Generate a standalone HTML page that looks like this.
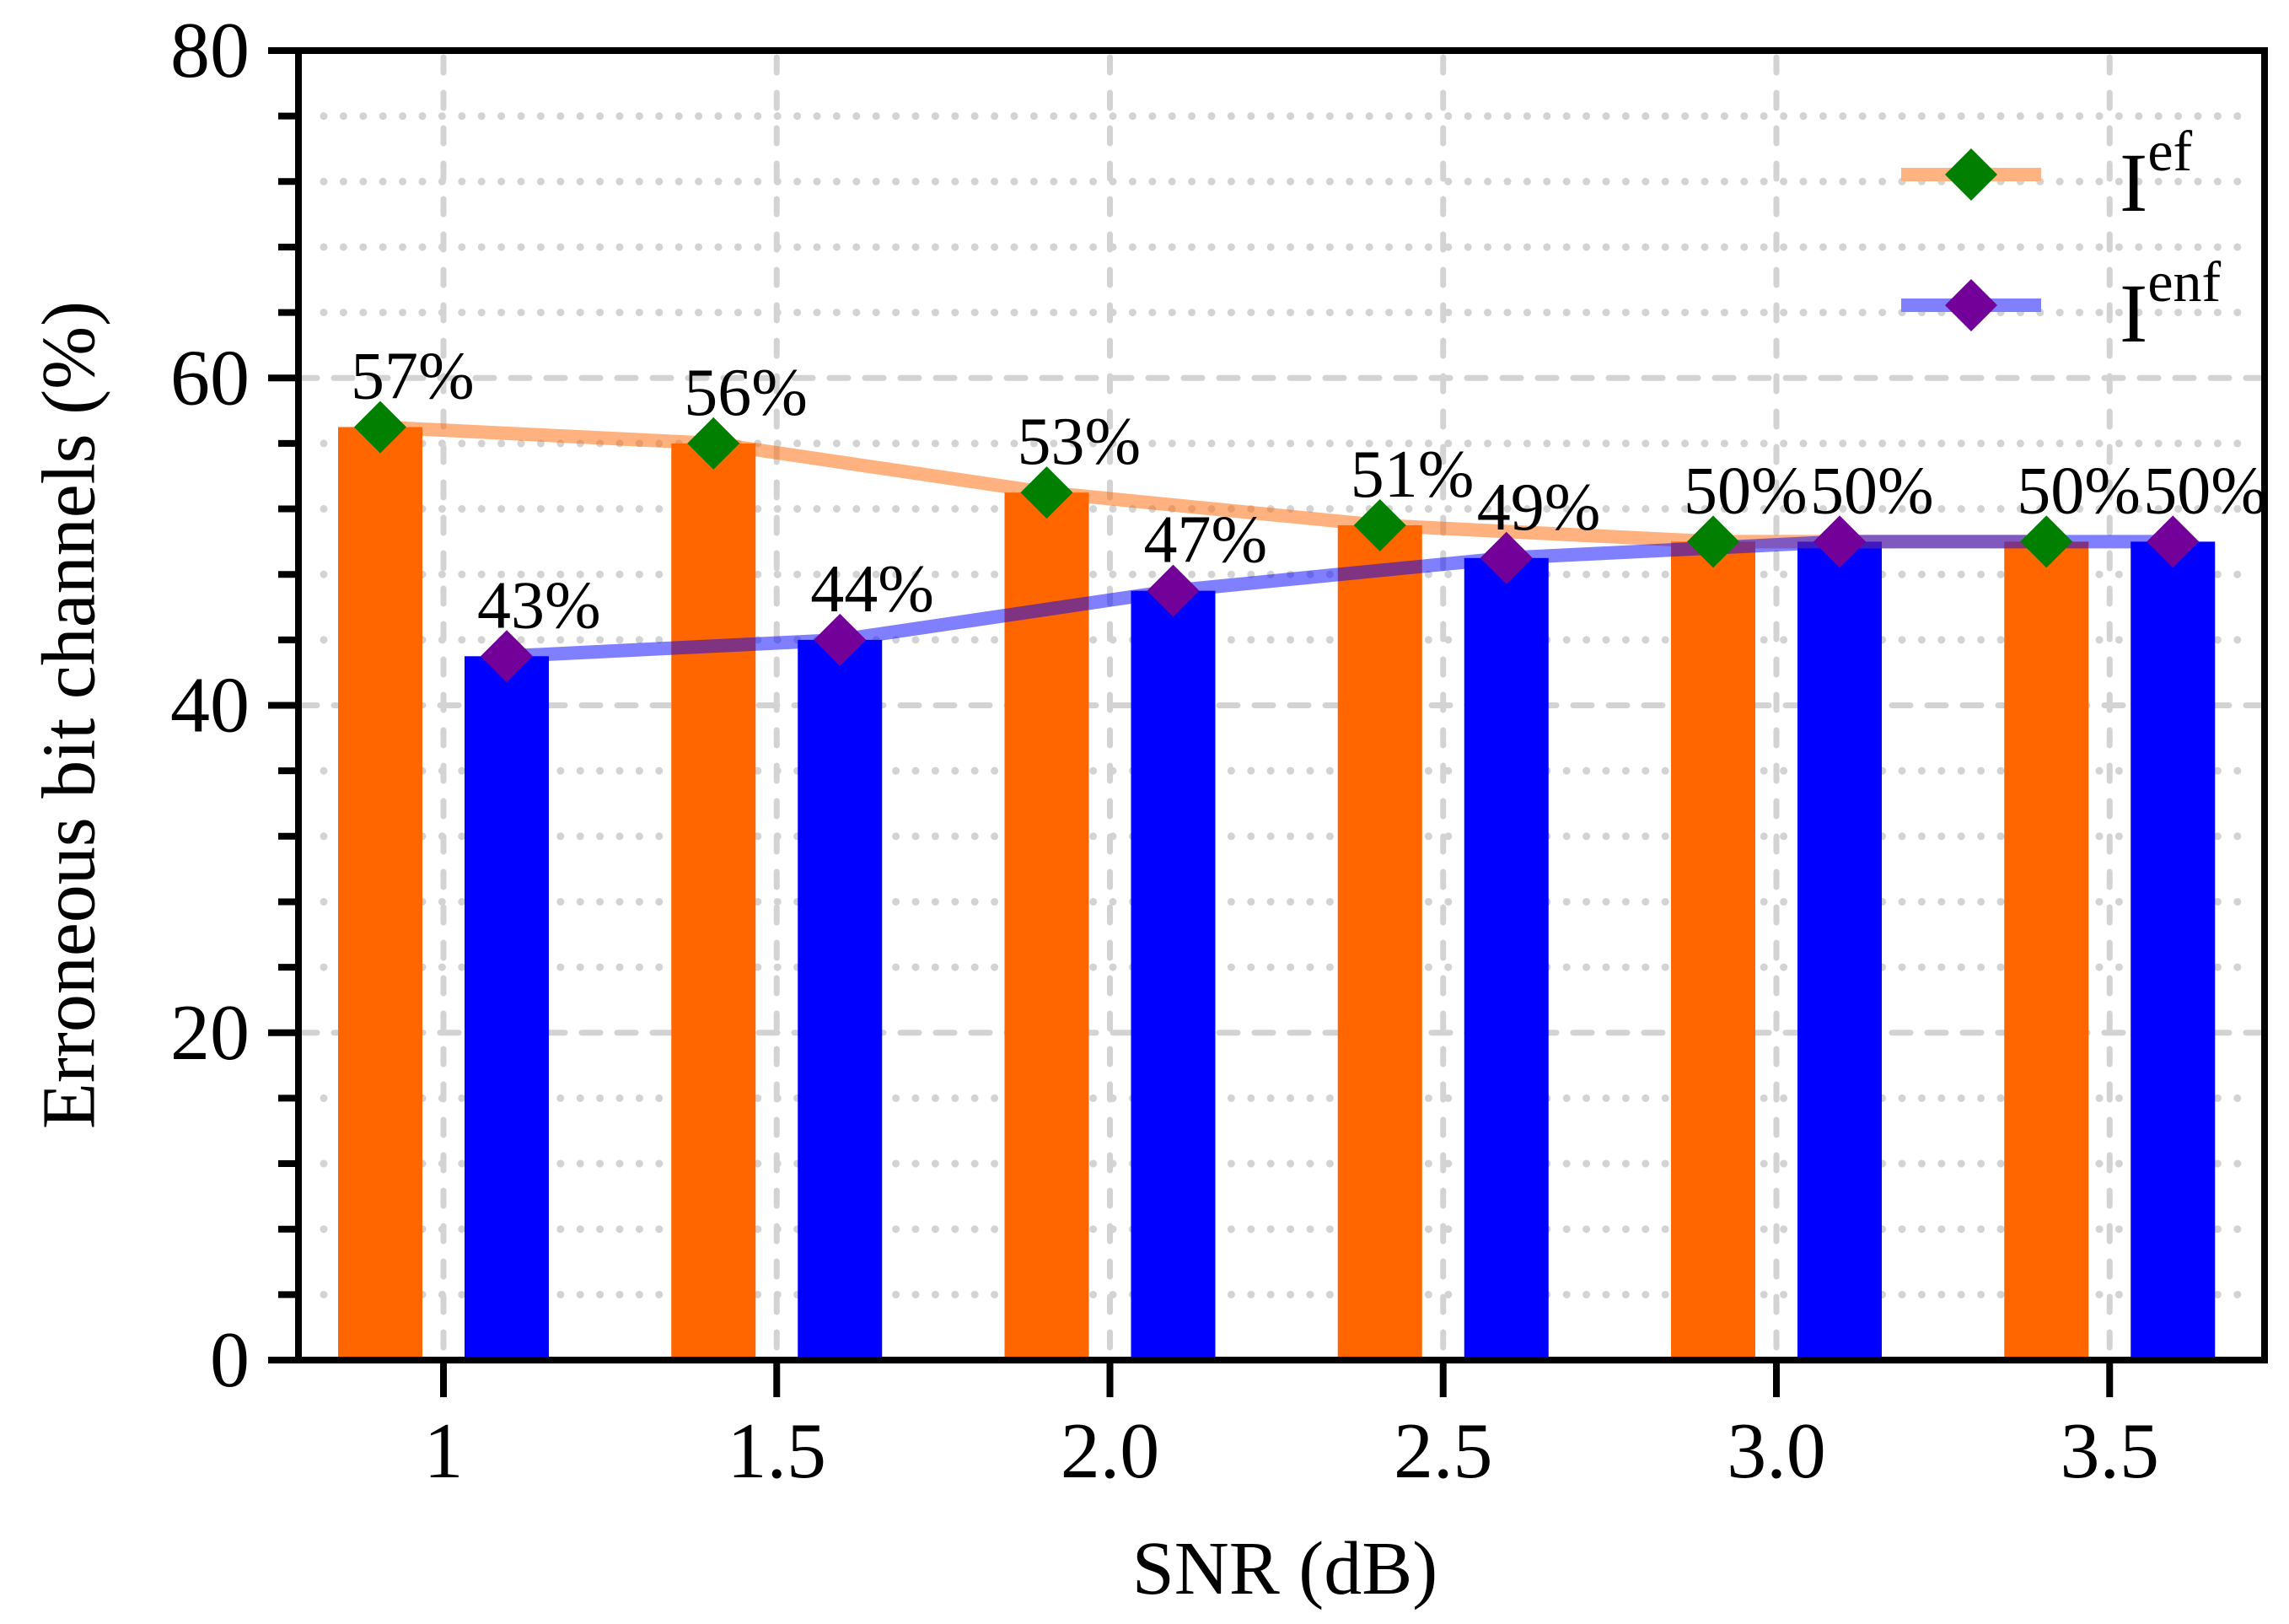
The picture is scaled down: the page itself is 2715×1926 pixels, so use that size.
<!DOCTYPE html>
<html><head><meta charset="utf-8"><style>
html,body{margin:0;padding:0;background:#fff;}
svg{display:block;font-family:"Liberation Serif","Times New Roman",serif;}
</style></head><body>
<svg id="chart" width="2715" height="1926" xmlns="http://www.w3.org/2000/svg" font-family="Liberation Serif, serif">
<g id="grid"></g>
<g id="bars"></g>
<g id="lines"></g>
<g id="marks"></g>
<g id="labels"></g>
<g id="axes"></g>
<g id="legend">
  <line x1="2255" y1="207" x2="2421" y2="207" stroke="#ffb380" stroke-width="16"/>
  <polygon points="2338,176 2369,207 2338,238 2307,207" fill="#007f00"/>
  <text x="2514" y="250" font-size="100">I<tspan font-size="68" dy="-48">ef</tspan></text>
  <line x1="2255" y1="362" x2="2421" y2="362" stroke="#8080ff" stroke-width="16"/>
  <polygon points="2338,331 2369,362 2338,393 2307,362" fill="#730099"/>
  <text x="2514" y="405" font-size="100">I<tspan font-size="68" dy="-48">enf</tspan></text>
</g>
<text x="1524" y="1890" font-size="90" text-anchor="middle">SNR (dB)</text>
<text transform="translate(82,848) rotate(-90)" font-size="90" text-anchor="middle" dominant-baseline="central">Erroneous bit channels (%)</text>
</svg>
<script>
const categories = ["1","1.5","2.0","2.5","3.0","3.5"];
const efValues = [57,56,53,51,50,50];
const enfValues = [43,44,47,49,50,50];
const yMajorTicks = [0,20,40,60,80];
const yMinorTicks = [4,8,12,16,24,28,32,36,44,48,52,56,64,68,72,76];

const NS="http://www.w3.org/2000/svg";
const L=354,R=2686,T=60,B=1613;
const x0=526,dx=395.25;
function xPos(i){return x0+i*dx;}
function yPos(v){return B-(v/80)*(B-T);}
function mk(tag,attrs,parent){const e=document.createElementNS(NS,tag);for(const k in attrs)e.setAttribute(k,attrs[k]);parent.appendChild(e);return e;}
const grid=document.getElementById('grid'),bars=document.getElementById('bars'),lines=document.getElementById('lines'),marks=document.getElementById('marks'),labels=document.getElementById('labels'),axes=document.getElementById('axes');

yMinorTicks.forEach(v=>{
  const e=mk('line',{x1:L+30,x2:R-10,y1:yPos(v),y2:yPos(v),stroke:'#d3d3d3','stroke-width':9,'stroke-linecap':'round','stroke-dasharray':'0 23.4'},grid);
  
  
});
yMajorTicks.forEach(v=>{
  if(v===0||v===80)return;
  const e=mk('line',{x1:L,x2:R,y1:yPos(v),y2:yPos(v),stroke:'#d3d3d3','stroke-width':7,'stroke-linecap':'round','stroke-dasharray':'22 20'},grid);
  
  
});
categories.forEach((c,i)=>{
  const e=mk('line',{x1:xPos(i),x2:xPos(i),y1:T+8,y2:B,stroke:'#d3d3d3','stroke-width':7,'stroke-linecap':'round','stroke-dasharray':'18 24'},grid);
  
  
});

const off=75,bw=100;
efValues.forEach((v,i)=>{
  const e=mk('rect',{x:xPos(i)-off-bw/2,y:yPos(v),width:bw,height:B-yPos(v),fill:'#ff6600'},bars);
  
  
});
enfValues.forEach((v,i)=>{
  const e=mk('rect',{x:xPos(i)+off-bw/2,y:yPos(v),width:bw,height:B-yPos(v),fill:'#0000ff'},bars);
  
  
});

function series(vals,o,lineColor,markColor,name){
  const pts=vals.map((v,i)=>(xPos(i)+o)+','+yPos(v)).join(' ');
  const pl=mk('polyline',{points:pts,fill:'none',stroke:lineColor,'stroke-opacity':0.5,'stroke-width':16,'stroke-linejoin':'round'},lines);
  
  
  vals.forEach((v,i)=>{
    const cx=xPos(i)+o,cy=yPos(v),s=31;
    const p=mk('polygon',{points:`${cx},${cy-s} ${cx+s},${cy} ${cx},${cy+s} ${cx-s},${cy}`,fill:markColor},marks);
    
    
    const t=mk('text',{x:cx-35,y:cy-34,'font-size':80},labels);
    t.textContent=v+'%';
    
    
  });
}
series(efValues,-off,'#ff6600','#007f00','ef');
series(enfValues,off,'#0000ff','#730099','enf');

const frame=mk('rect',{x:L,y:T,width:R-L,height:B-T,fill:'none',stroke:'#000','stroke-width':8},axes);


yMajorTicks.forEach(v=>{
  const tk=mk('line',{x1:L-36,x2:L,y1:yPos(v),y2:yPos(v),stroke:'#000','stroke-width':8},axes);
  
  
  const t=mk('text',{x:L-58,y:yPos(v),'font-size':94,'text-anchor':'end','dominant-baseline':'central'},axes);
  t.textContent=v;
  
  
});
yMinorTicks.forEach(v=>{
  const tk=mk('line',{x1:L-24,x2:L,y1:yPos(v),y2:yPos(v),stroke:'#000','stroke-width':8},axes);
  
  
});
categories.forEach((c,i)=>{
  const tk=mk('line',{x1:xPos(i),x2:xPos(i),y1:B,y2:B+44,stroke:'#000','stroke-width':8},axes);
  
  
  const t=mk('text',{x:xPos(i),y:1752,'font-size':94,'text-anchor':'middle'},axes);
  t.textContent=c;
  
  
});
</script>
</body></html>
